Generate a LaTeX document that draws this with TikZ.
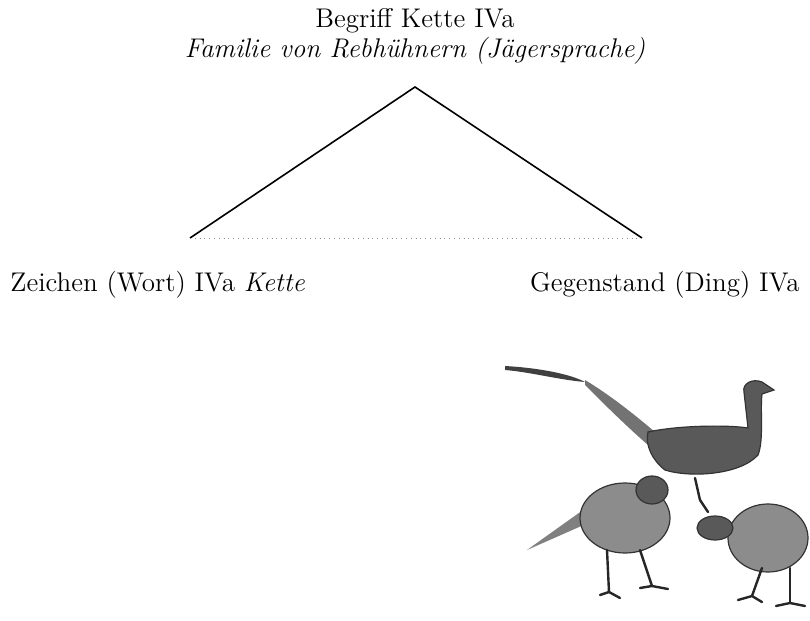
\documentclass[tikz,border=0pt]{standalone}
\usepackage{tikz}
\tikzstyle{label}=[inner sep=0pt,font=\fontsize{13.5}{16}\selectfont]
\tikzstyle{side}=[black,thick]
\tikzstyle{bird}=[fill=black!65,draw=black!80,line width=0.6pt]
\tikzstyle{leg}=[black!85,line width=1.2pt,line cap=round]

\begin{document}
\begin{tikzpicture}[x=0.5pt, y=-0.5pt]
    \useasboundingbox (0,0) rectangle (810,621);
    % labels
    \node[label] (begriff) at (415,21) {Begriff Kette IVa};
    \node[label] (familie) at (415,51) {\itshape Familie von Rebhühnern (Jägersprache)};
    \node[label, anchor=west] (zeichen) at (10,285) {Zeichen (Wort) IVa \textit{Kette}};
    \node[label, anchor=east] (gegenstand) at (800,285) {Gegenstand (Ding) IVa};
    % triangle
    \coordinate (top) at (415,87);
    \coordinate (left) at (190,238);
    \coordinate (right) at (642,238);
    \draw[side] (left) -- (top) -- (right);
    \draw[black!45, dotted] (left) -- (right);
    % pheasant
    \fill[black!75] (505,366) .. controls (540,368) and (570,374) .. (585,382)
        .. controls (560,380) and (530,372) .. (505,370) -- cycle;
    \fill[black!55] (585,380) .. controls (610,395) and (635,415) .. (655,432)
        -- (648,445) .. controls (625,425) and (600,400) .. (585,385) -- cycle;
    \fill[bird] (648,432) .. controls (680,425) and (730,425) .. (748,428)
        -- (744,392) .. controls (742,384) and (752,378) .. (762,382)
        -- (774,390) -- (762,394) .. controls (760,410) and (764,440) .. (758,455)
        .. controls (740,475) and (690,478) .. (665,470)
        .. controls (652,460) and (645,445) .. (648,432) -- cycle;
    \draw[leg] (695,478) -- (700,500) -- (708,512);
    % first chick
    \fill[black!50] (527,550) -- (590,505) -- (595,520) -- cycle;
    \fill[bird, fill=black!45] (625,518) ellipse [x radius=45, y radius=35];
    \fill[bird] (652,490) ellipse [x radius=16, y radius=14];
    \draw[leg] (607,550) -- (609,592);
    \draw[leg] (600,595) -- (609,592) -- (620,598);
    \draw[leg] (640,550) -- (652,586);
    \draw[leg] (640,588) -- (652,586) -- (668,589);
    % second chick
    \fill[bird, fill=black!45] (768,538) ellipse [x radius=40, y radius=34];
    \fill[bird] (715,528) ellipse [x radius=18, y radius=12];
    \draw[leg] (762,568) -- (752,596);
    \draw[leg] (738,600) -- (752,596) -- (762,602);
    \draw[leg] (790,568) -- (790,603);
    \draw[leg] (776,606) -- (790,603) -- (805,606);
\end{tikzpicture}
\end{document}
